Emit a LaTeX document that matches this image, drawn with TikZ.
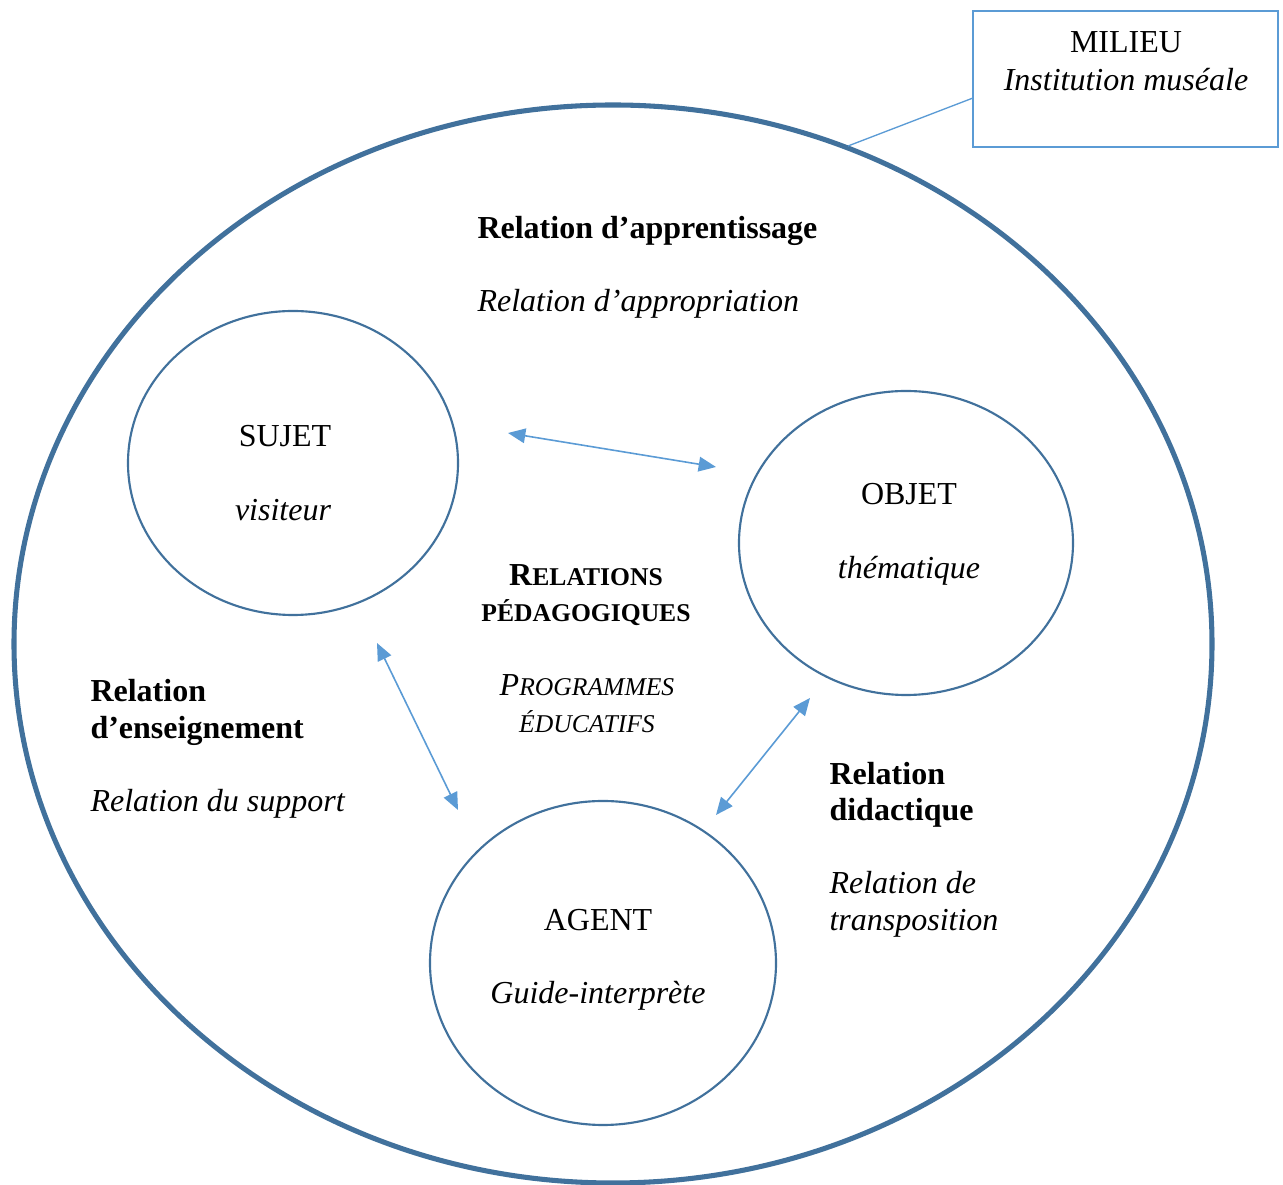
\documentclass[tikz,border=0pt]{standalone}
\usepackage{fontspec}
\setmainfont{Liberation Serif}
\usetikzlibrary{arrows.meta}
\definecolor{darkblue}{RGB}{65,113,156}
\definecolor{lightblue}{RGB}{91,155,213}
\newcommand{\petitescap}[1]{{\fontsize{9.6}{11}\selectfont #1}}

\begin{document}
\begin{tikzpicture}[x=0.375pt,y=-0.375pt,
  circ/.style={draw=darkblue,line width=0.8pt},
  arr/.style={draw=lightblue,line width=0.6pt,{Triangle[length=6.5pt,width=5.5pt]}-{Triangle[length=6.5pt,width=5.5pt]}},
  txt/.style={anchor=base west,inner sep=0pt,font=\fontsize{12}{14}\selectfont},
  ctxt/.style={txt,anchor=base}]
\useasboundingbox (0,0) rectangle (1283,1185);

%Shape: Ellipse (milieu)
\draw [draw=darkblue,line width=1.9pt] (613,644) ellipse [x radius=599,y radius=539];
%Shape: Rectangle
\draw [draw=lightblue,line width=1pt] (973,11) rectangle (1278,147);
\coordinate (milieuW) at (973,98);
\coordinate (bord) at (848,146);
%Straight Lines
\draw [draw=lightblue,line width=0.5pt] (bord) -- (milieuW);

%Shape: Circle
\draw [circ] (293,463) ellipse [x radius=165,y radius=152];
%Shape: Circle
\draw [circ] (906,543) ellipse [x radius=167,y radius=152];
%Shape: Circle
\draw [circ] (603,963) ellipse [x radius=173,y radius=162];

% arrow ends
\coordinate (sujetE) at (508,433);
\coordinate (objetW) at (716,467);
\coordinate (sujetS) at (377,643);
\coordinate (agentNW) at (458,810);
\coordinate (objetS) at (810,698);
\coordinate (agentNE) at (716,815);

%Straight Lines
\draw [arr] (sujetE) -- (objetW);
\draw [arr] (sujetS) -- (agentNW);
\draw [arr] (objetS) -- (agentNE);

% Text Node
\node [ctxt] (milieu) at (1126,53) {MILIEU};
\node [ctxt] (musee) at (1126,91) {\itshape Institution muséale};
% Text Node
\node [txt] (apprent) at (477,239) {\bfseries Relation d’apprentissage};
\node [txt] (appropr) at (477,312) {\itshape Relation d’appropriation};
% Text Node
\node [ctxt] (sujet) at (285,447) {SUJET};
\node [ctxt] (visiteur) at (283,521) {\itshape visiteur};
% Text Node
\node [ctxt] (objet) at (909,505) {OBJET};
\node [ctxt] (thema) at (909,579) {\itshape thématique};
% Text Node
\node [ctxt] (relped) at (586,586) {\bfseries R\petitescap{ELATIONS}};
\node [ctxt] (peda) at (586,622) {\bfseries\petitescap{PÉDAGOGIQUES}};
\node [ctxt] (progr) at (587,696) {\itshape P\petitescap{ROGRAMMES}};
\node [ctxt] (educ) at (587,733) {\itshape\petitescap{ÉDUCATIFS}};
% Text Node
\node [txt] (enseig1) at (90,702) {\bfseries Relation};
\node [txt] (enseig2) at (90,739) {\bfseries d’enseignement};
\node [txt] (support) at (90,812) {\itshape Relation du support};
% Text Node
\node [txt] (didac1) at (829,785) {\bfseries Relation};
\node [txt] (didac2) at (829,821) {\bfseries didactique};
\node [txt] (transp1) at (829,894) {\itshape Relation de};
\node [txt] (transp2) at (829,931) {\itshape transposition};
% Text Node
\node [ctxt] (agent) at (598,931) {AGENT};
\node [ctxt] (guide) at (598,1004) {\itshape Guide-interprète};

\end{tikzpicture}
\end{document}
